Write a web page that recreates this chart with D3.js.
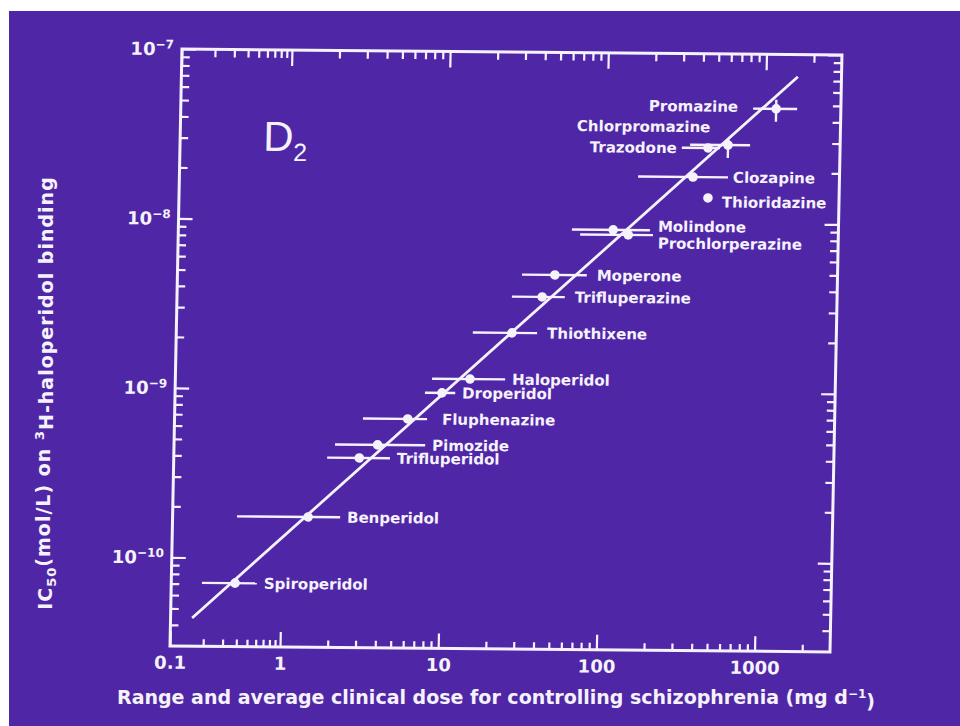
<!DOCTYPE html>
<html>
<head>
<meta charset="utf-8">
<script src="https://cdn.jsdelivr.net/npm/d3@7"></script>
<style>
  body { margin: 0; background: #fff; }
  svg { display: block; }
</style>
</head>
<body>
<div id="plot-container"></div>
<script>
const w = 960;
const h = 726;

// drugs, ordered from most to least potent
const drugs = ['Spiroperidol', 'Benperidol', 'Trifluperidol', 'Pimozide', 'Fluphenazine',
    'Droperidol', 'Haloperidol', 'Thiothixene', 'Trifluperazine', 'Moperone',
    'Prochlorperazine', 'Molindone', 'Thioridazine', 'Clozapine', 'Trazodone',
    'Chlorpromazine', 'Promazine'];
// average clinical dose (mg/day) and its range
const doseAvg = [0.38, 1.45, 3.0, 3.9, 6.0, 9.8, 14.7, 26.7, 41, 49, 141, 113, 445, 356, 439, 587, 1170];
const doseLow = [0.19, 0.385, 1.88, 2.1, 3.13, 7.66, 8.46, 15.1, 26.4, 30.4, 70, 62, null, 160, 300, 338, 836];
const doseHigh = [0.6, 2.31, 4.69, 7.8, 7.96, 11.9, 24.5, 38.5, 57, 78, 202, 193, null, 592, 522, 809, 1588];
// IC50 on 3H-haloperidol binding (mol/L)
const ic50 = [7.1e-11, 1.76e-10, 3.95e-10, 4.73e-10, 6.75e-10, 9.66e-10, 1.17e-9, 2.2e-9, 3.6e-9,
    4.86e-9, 8.45e-9, 9.03e-9, 1.41e-8, 1.87e-8, 2.78e-8, 2.9e-8, 4.77e-8];
const ic50Low = [null, null, null, null, null, null, null, null, null, null, null, null, null, null, null, 2.43e-8, 4.0e-8];
const ic50High = [null, null, null, null, null, null, null, null, null, null, null, null, null, null, null, 3.19e-8, 5.4e-8];

// regression line end points
const fitDose = [0.157, 1590];
const fitIc50 = [4.4e-11, 7.4e-8];

// axis ticks
const xMajor = [0.1, 1, 10, 100, 1000];
const xTickLabels = ['0.1', '1', '10', '100', '1000'];
const yMajor = [1e-10, 1e-9, 1e-8, 1e-7];
const yTickExp = ['-10', '-9', '-8', '-7'];

const bg = '#4f27a6';
const fg = '#f6f2fb';
const font = '"DejaVu Sans", sans-serif';

// label placement (layout only)
const labelPlace = {
    Fluphenazine: { ref: 'hi', dx: 15 },
    Thiothixene: { ref: 'hi', dx: 10 },
    Trifluperazine: { ref: 'hi', dx: 10 },
    Moperone: { ref: 'hi', dx: 10 },
    Molindone: { ref: 'hi', dx: 8, dy: -4 },
    Prochlorperazine: { ref: 'hi', dx: 5, dy: 8 },
    Thioridazine: { ref: 'pt', dx: 14, dy: 4 },
    Clozapine: { ref: 'hi', dx: 5 },
    Trazodone: { ref: 'lo', dx: -5, anchor: 'end' },
    Chlorpromazine: { ref: 'pt', dx: -18, dy: -18, anchor: 'end' },
    Promazine: { ref: 'lo', dx: -15, dy: -2, anchor: 'end' }
};

const svg = d3.select('#plot-container')
    .append('svg')
    .attr('width', w)
    .attr('height', h);

svg.append('rect').attr('width', w).attr('height', h).attr('fill', bg);
// white slide border
svg.append('rect').attr('width', w).attr('height', 11).attr('fill', '#fff');
svg.append('rect').attr('width', 9).attr('height', h).attr('fill', '#fff');

const pLeft = 170, pRight = 830, pTop = 49, pBottom = 646;

// the original's first decade is drawn shorter than the others
const xScale = d3.scaleLog().domain([0.1, 1, 3000]).range([pLeft, 280, pRight]);
const yScale = d3.scaleLog().domain([3e-11, 1e-7]).range([pBottom, pTop]);

// slide photo is slightly skewed
const plot = svg.append('g')
    .attr('transform', 'matrix(1,0.009,-0.02,1,' + (0.02 * pBottom) + ',' + (-0.009 * pLeft) + ')');

// minor ticks
const xMinor = [];
xMajor.forEach(d => d3.range(2, 10).forEach(k => { if (d * k < 3000) xMinor.push(d * k); }));
const yMinor = [];
[1e-11, 1e-10, 1e-9, 1e-8].forEach(d => d3.range(2, 10).forEach(k => {
    if (d * k > 3e-11 && d * k < 1e-7) yMinor.push(d * k);
}));

const styleAxis = g => {
    g.select('.domain').remove();
    g.selectAll('line').attr('stroke', fg).attr('stroke-width', 2.2);
    g.selectAll('text').attr('fill', fg).style('font-family', font)
        .style('font-weight', 'bold').style('font-size', '18px');
};

// bottom
plot.append('g').attr('transform', 'translate(0,' + pBottom + ')')
    .call(d3.axisBottom(xScale).tickValues(xMinor).tickSize(-7).tickFormat(''))
    .call(styleAxis);
plot.append('g').attr('transform', 'translate(0,' + pBottom + ')')
    .call(d3.axisBottom(xScale).tickValues(xMajor).tickSize(-15).tickPadding(10)
        .tickFormat((d, i) => xTickLabels[i]))
    .call(styleAxis);
// top
plot.append('g').attr('transform', 'translate(0,' + pTop + ')')
    .call(d3.axisTop(xScale).tickValues(xMinor).tickSize(-8).tickFormat(''))
    .call(styleAxis);
plot.append('g').attr('transform', 'translate(0,' + pTop + ')')
    .call(d3.axisTop(xScale).tickValues(xMajor).tickSize(-16).tickFormat(''))
    .call(styleAxis);
// left
plot.append('g').attr('transform', 'translate(' + pLeft + ',0)')
    .call(d3.axisLeft(yScale).tickValues(yMinor).tickSize(-8).tickFormat(''))
    .call(styleAxis);
const yAxisG = plot.append('g').attr('transform', 'translate(' + pLeft + ',0)')
    .call(d3.axisLeft(yScale).tickValues(yMajor).tickSize(-14).tickPadding(8).tickFormat(() => '10'))
    .call(styleAxis);
yAxisG.selectAll('.tick text').each(function (d, i) {
    d3.select(this).append('tspan').attr('dy', '-0.55em').style('font-size', '12px')
        .text(yTickExp[i].replace('-', '\u2212'));
});
// right
plot.append('g').attr('transform', 'translate(' + pRight + ',0)')
    .call(d3.axisRight(yScale).tickValues(yMinor).tickSize(-8).tickFormat(''))
    .call(styleAxis);
plot.append('g').attr('transform', 'translate(' + pRight + ',0)')
    .call(d3.axisRight(yScale).tickValues(yMajor).tickSize(-14).tickFormat(''))
    .call(styleAxis);

// frame
plot.append('rect')
    .attr('x', pLeft).attr('y', pTop)
    .attr('width', pRight - pLeft).attr('height', pBottom - pTop)
    .attr('fill', 'none').attr('stroke', fg).attr('stroke-width', 3);

// D2 label
const dLabel = plot.append('text')
    .attr('x', 253).attr('y', 150)
    .attr('fill', fg)
    .style('font-family', '"Liberation Sans", Arial, sans-serif')
    .style('font-size', '42px')
    .text('D');
dLabel.append('tspan').attr('dy', 10).style('font-size', '25px').text('2');

// regression line
plot.append('path')
    .datum(fitDose.map((d, i) => [d, fitIc50[i]]))
    .attr('d', d3.line().x(d => xScale(d[0])).y(d => yScale(d[1])))
    .attr('stroke', fg).attr('stroke-width', 2.8).attr('fill', 'none');

const data = drugs.map((name, i) => ({
    name: name, x: doseAvg[i], lo: doseLow[i], hi: doseHigh[i],
    y: ic50[i], ylo: ic50Low[i], yhi: ic50High[i]
}));

// horizontal range bars
plot.selectAll('line.range')
    .data(data.filter(d => d.lo !== null))
    .enter()
    .append('line')
    .attr('class', 'range')
    .attr('x1', d => xScale(d.lo))
    .attr('x2', d => xScale(d.hi))
    .attr('y1', d => yScale(d.y))
    .attr('y2', d => yScale(d.y))
    .attr('stroke', fg).attr('stroke-width', 2.4);

// vertical bars
plot.selectAll('line.vbar')
    .data(data.filter(d => d.ylo !== null))
    .enter()
    .append('line')
    .attr('class', 'vbar')
    .attr('x1', d => xScale(d.x))
    .attr('x2', d => xScale(d.x))
    .attr('y1', d => yScale(d.ylo))
    .attr('y2', d => yScale(d.yhi))
    .attr('stroke', fg).attr('stroke-width', 2.4);

// points
plot.selectAll('circle')
    .data(data)
    .enter()
    .append('circle')
    .attr('cx', d => xScale(d.x))
    .attr('cy', d => yScale(d.y))
    .attr('r', 4.8)
    .attr('fill', fg);

// drug names
plot.selectAll('text.drug')
    .data(data)
    .enter()
    .append('text')
    .attr('class', 'drug')
    .attr('x', d => {
        const p = labelPlace[d.name] || { ref: 'hi', dx: 7 };
        const base = p.ref === 'hi' ? xScale(d.hi) : p.ref === 'lo' ? xScale(d.lo) : xScale(d.x);
        return base + p.dx;
    })
    .attr('y', d => {
        const p = labelPlace[d.name] || {};
        return yScale(d.y) + (p.dy || 0);
    })
    .attr('dy', '0.36em')
    .attr('text-anchor', d => (labelPlace[d.name] || {}).anchor || 'start')
    .attr('fill', fg)
    .style('font-family', font)
    .style('font-weight', 'bold')
    .style('font-size', '15px')
    .text(d => d.name);

// axis titles
const xTitle = svg.append('text')
    .attr('x', 496).attr('y', 704)
    .attr('text-anchor', 'middle')
    .attr('fill', fg)
    .style('font-family', font)
    .style('font-weight', 'bold')
    .style('font-size', '19px')
    .text('Range and average clinical dose for controlling schizophrenia (mg d');
xTitle.append('tspan').attr('dy', '-0.5em').style('font-size', '12px').text('\u22121');
xTitle.append('tspan').attr('dy', '0.5em').text(')');

const yTitle = svg.append('text')
    .attr('transform', 'translate(52,393) rotate(-90)')
    .attr('text-anchor', 'middle')
    .attr('fill', fg)
    .style('font-family', font)
    .style('font-weight', 'bold')
    .style('font-size', '19px')
    .style('letter-spacing', '1px')
    .text('IC');
yTitle.append('tspan').attr('dy', '0.3em').style('font-size', '13px').text('50');
yTitle.append('tspan').attr('dy', '-0.3em').text('(mol/L) on ');
yTitle.append('tspan').attr('dy', '-0.5em').style('font-size', '13px').text('3');
yTitle.append('tspan').attr('dy', '0.5em').text('H-haloperidol binding');
</script>
</body>
</html>
